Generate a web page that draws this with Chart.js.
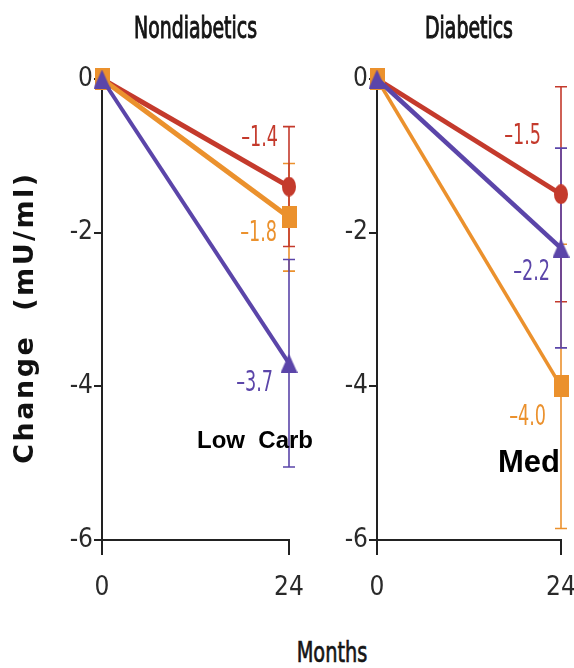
<!DOCTYPE html>
<html>
<head>
    <title>Change in fasting insulin</title>
    <script src="https://cdn.jsdelivr.net/npm/chart.js"></script>
    <style>
        body {
            margin: 0;
            background: #fff;
        }
        #wrap {
            position: relative;
            width: 574px;
            height: 668px;
            overflow: hidden;
        }
        canvas {
            position: absolute;
            top: 0;
        }
        #nondiab { left: 0; }
        #diab { left: 290px; }
        #months {
            position: absolute;
            left: 232px;
            width: 200px;
            top: 636px;
            text-align: center;
            font-family: 'DejaVu Sans Condensed', sans-serif;
            font-size: 29px;
            line-height: 32px;
            color: #151515;
            -webkit-text-stroke: 0.7px #151515;
            transform: scaleX(0.74);
        }
    </style>
</head>
<body>
<div id="wrap">
    <canvas id="nondiab" width="330" height="620"></canvas>
    <canvas id="diab" width="284" height="620"></canvas>
    <div id="months">Months</div>
</div>

<script>
    // time points and axis ticks
    const months = [0, 24];
    const xTicks = [0, 24];
    const yTicks = [0, -2, -4, -6];

    // diets, in order: low-fat, Mediterranean, low-carbohydrate
    const dietNames = ['Low fat', 'Mediterranean', 'Low carb'];

    // mean change in insulin (mU/ml), nondiabetics
    const nonLowFat = [0, -1.4];
    const nonMed = [0, -1.8];
    const nonLowCarb = [0, -3.7];
    const nonErr = [0.78, 0.7, 1.35];

    // mean change in insulin (mU/ml), diabetics
    const diabLowFat = [0, -1.5];
    const diabMed = [0, -4.0];
    const diabLowCarb = [0, -2.2];
    const diabErr = [1.4, 1.85, 1.3];

    const condensed = "'DejaVu Sans Condensed', sans-serif";
    const dietColors = ['#c43a2c', '#eb912d', '#5b45a9'];

    // slightly tall markers: ellipse, block, triangle
    function makeMarker(shape, w, h, color) {
        const c = document.createElement('canvas');
        c.width = w;
        c.height = h;
        const g = c.getContext('2d');
        g.fillStyle = color;
        g.beginPath();
        if (shape === 'circle') {
            g.ellipse(w / 2, h / 2, w / 2, h / 2, 0, 0, Math.PI * 2);
        } else if (shape === 'rect') {
            g.rect(0, 0, w, h);
        } else {
            g.moveTo(w / 2, 0);
            g.lineTo(w, h);
            g.lineTo(0, h);
            g.closePath();
        }
        g.fill();
        return c;
    }
    const markers = [
        makeMarker('circle', 14, 20, dietColors[0]),
        makeMarker('rect', 15, 22, dietColors[1]),
        makeMarker('triangle', 17, 19, dietColors[2])
    ];

    // squeezed text, the condensed face is still too wide
    function narrowText(ctx, txt, x, y, size, align, stroke) {
        ctx.save();
        ctx.translate(x, y);
        ctx.scale(0.7, 1);
        ctx.font = size + 'px ' + condensed;
        ctx.textAlign = align;
        ctx.fillText(txt, 0, 0);
        if (stroke) {
            ctx.lineWidth = stroke;
            ctx.strokeStyle = ctx.fillStyle;
            ctx.strokeText(txt, 0, 0);
        }
        ctx.restore();
    }

    function makePanel(id, opts) {
        const canvas = document.getElementById(id);

        // error bars under the markers; title, value labels and side note on top
        const decor = {
            id: 'decor',
            beforeDatasetsDraw(chart) {
                const { ctx, scales: { x, y } } = chart;
                ctx.save();
                ctx.lineWidth = 1.6;
                [1, 0, 2].forEach(k => {
                    const last = opts.series[k].length - 1;
                    const px = x.getPixelForValue(months[last]);
                    const v = opts.series[k][last];
                    const top = y.getPixelForValue(v + opts.errs[k]);
                    const bot = y.getPixelForValue(v - opts.errs[k]);
                    ctx.strokeStyle = dietColors[k];
                    ctx.beginPath();
                    ctx.moveTo(px, top);
                    ctx.lineTo(px, bot);
                    ctx.moveTo(px - 6, top);
                    ctx.lineTo(px + 6, top);
                    ctx.moveTo(px - 6, bot);
                    ctx.lineTo(px + 6, bot);
                    ctx.stroke();
                });
                ctx.restore();
            },
            afterDatasetsDraw(chart) {
                const { ctx, chartArea, scales: { x, y } } = chart;
                ctx.save();
                ctx.textBaseline = 'alphabetic';
                ctx.fillStyle = '#151515';
                narrowText(ctx, opts.title, (chartArea.left + chartArea.right) / 2, 38, 30, 'center', 1);

                ctx.textBaseline = 'middle';
                [0, 1, 2].forEach(k => {
                    const last = opts.series[k].length - 1;
                    const v = opts.series[k][last];
                    const txt = (v < 0 ? '\u2013' : '') + Math.abs(v).toFixed(1);
                    ctx.fillStyle = dietColors[k];
                    narrowText(ctx, txt,
                        x.getPixelForValue(months[last]) + opts.labelPos[k][0],
                        y.getPixelForValue(v) + opts.labelPos[k][1], 28, 'right', 0);
                });

                ctx.fillStyle = '#000';
                ctx.font = 'bold ' + opts.note.size + "px 'Liberation Sans', Arial, sans-serif";
                ctx.textAlign = 'right';
                ctx.textBaseline = 'alphabetic';
                ctx.fillText(opts.note.text,
                    x.getPixelForValue(24) + opts.note.dx,
                    y.getPixelForValue(opts.note.at));

                if (opts.yTitle) {
                    ctx.translate(26, (chartArea.top + chartArea.bottom) / 2 + 8);
                    ctx.rotate(-Math.PI / 2);
                    ctx.font = "bold 27px 'DejaVu Sans', sans-serif";
                    ctx.letterSpacing = '2.5px';
                    ctx.textAlign = 'center';
                    ctx.textBaseline = 'middle';
                    ctx.fillStyle = '#111';
                    ctx.fillText(opts.yTitle, 0, 0);
                }
                ctx.restore();
            }
        };

        return new Chart(canvas, {
            type: 'line',
            data: {
                datasets: [2, 1, 0].map(k => ({
                    label: dietNames[k],
                    data: months.map((m, i) => ({ x: m, y: opts.series[k][i] })),
                    borderColor: dietColors[k],
                    backgroundColor: dietColors[k],
                    borderWidth: opts.widths[k],
                    pointStyle: markers[k],
                    pointRadius: 8,
                    clip: false
                }))
            },
            options: {
                responsive: false,
                animation: false,
                events: [],
                layout: { padding: { left: 0, right: opts.padRight, top: 79, bottom: 0 } },
                plugins: {
                    legend: { display: false },
                    tooltip: { enabled: false },
                    title: { display: false }
                },
                scales: {
                    x: {
                        type: 'linear',
                        min: 0,
                        max: 24,
                        afterBuildTicks: s => { s.ticks = xTicks.map(v => ({ value: v })); },
                        afterFit: s => {
                            s.height = 80;
                            s.paddingLeft = 0;
                            s.paddingRight = 0;
                        },
                        border: { display: true, color: '#222', width: 2 },
                        grid: { drawOnChartArea: false, tickLength: 15, color: '#222', lineWidth: 2 },
                        ticks: { color: '#2a2a2a', padding: 18, font: { family: condensed, size: 26 } }
                    },
                    y: {
                        min: -6,
                        max: 0,
                        afterBuildTicks: s => { s.ticks = yTicks.map(v => ({ value: v })); },
                        afterFit: s => { s.width = opts.axisLeft; },
                        border: { display: true, color: '#222', width: 2 },
                        grid: { drawOnChartArea: false, tickLength: 8, color: '#222', lineWidth: 2 },
                        ticks: { color: '#2a2a2a', padding: 1, font: { family: condensed, size: 26 } }
                    }
                }
            },
            plugins: [decor]
        });
    }

    makePanel('nondiab', {
        title: 'Nondiabetics',
        series: [nonLowFat, nonMed, nonLowCarb],
        errs: nonErr,
        widths: [5, 5, 4],
        labelPos: [[-11, -48], [-12, 16], [-16, 20]],
        note: { text: 'Low  Carb', size: 24, dx: 24, at: -4.8 },
        axisLeft: 102,
        padRight: 41,
        yTitle: 'Change  (mU/ml)'
    });

    makePanel('diab', {
        title: 'Diabetics',
        series: [diabLowFat, diabMed, diabLowCarb],
        errs: diabErr,
        widths: [5, 3.5, 4.5],
        labelPos: [[-20, -58], [-15, 31], [-11, 25]],
        note: { text: 'Med', size: 31, dx: -1, at: -5.12 },
        axisLeft: 87,
        padRight: 11,
        yTitle: null
    });
</script>
</body>
</html>
